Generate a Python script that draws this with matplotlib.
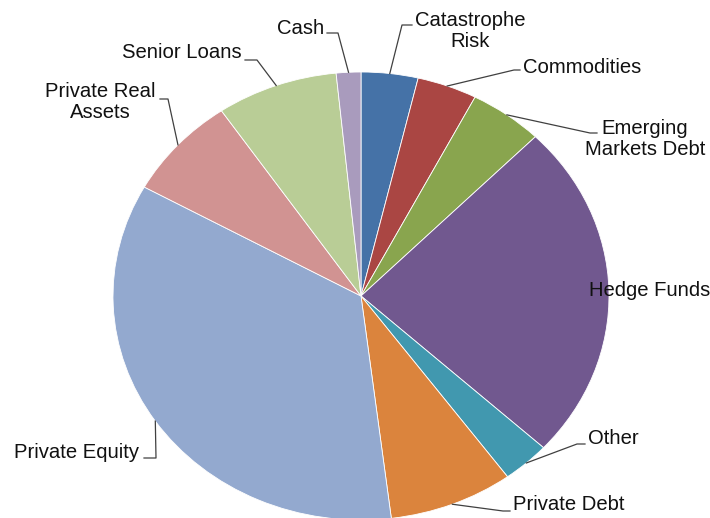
import numpy as np
import matplotlib.pyplot as plt

labels = ["Catastrophe\nRisk", "Commodities", "Emerging\nMarkets Debt", "Hedge Funds",
          "Other", "Private Debt", "Private Equity", "Private Real\nAssets",
          "Senior Loans", "Cash"]
values = [3.7, 3.9, 4.8, 24.4, 3.1, 8.1, 35.0, 7.4, 7.9, 1.6]
colors = ["#4572A7", "#AA4643", "#89A54E", "#71588F", "#4198AF",
          "#DB843D", "#93A9CF", "#D19392", "#B9CD96", "#A99BBD"]

W, H = 710, 518
CX, CY, RX, RY = 361, 296, 248, 224

fig = plt.figure(figsize=(W / 100, H / 100), dpi=100)
ax = fig.add_axes([(CX - RX) / W, (H - CY - RY) / H, 2 * RX / W, 2 * RY / H])
ax.pie(values, colors=colors, startangle=90, counterclock=False,
       wedgeprops=dict(edgecolor="white", linewidth=0.6))
ax.set_aspect("auto")
ax.set_xlim(-1, 1)
ax.set_ylim(-1, 1)
ax.axis("off")


def d(px, py):
    # pixel position (top-left origin) -> axes data coords
    return (px - CX) / RX, (CY - py) / RY


# label text anchor (pixels), alignment, leader elbow points (pixels)
layout = [
    ((470, 31), "center", [(402, 25), (412, 25)]),
    ((523, 68), "left", [(514, 70), (520, 70)]),
    ((645, 139), "center", [(590, 133), (597, 133)]),
    ((589, 290), "left", None),
    ((588, 438), "left", [(577, 444), (585, 444)]),
    ((513, 504), "left", [(503, 511), (510, 511)]),
    ((14, 452), "left", [(156, 458), (144, 458)]),
    ((100, 102), "center", [(168, 99), (160, 99)]),
    ((122, 53), "left", [(257, 60), (245, 60)]),
    ((277, 28), "left", [(338, 33), (327, 33)]),
]

total = sum(values)
cum = np.cumsum([0] + values[:-1])
for lab, v, c0, (pos, ha, elbow) in zip(labels, values, cum, layout):
    theta = np.deg2rad(90 - 360 * (c0 + v / 2) / total)
    if elbow is not None:
        pts = [(np.cos(theta), np.sin(theta))] + [d(*p) for p in elbow]
        xs, ys = zip(*pts)
        ax.plot(xs, ys, color="#404040", linewidth=0.9, clip_on=False)
    tx, ty = d(*pos)
    ax.text(tx, ty, lab, ha=ha, va="center", multialignment="center",
            fontsize=14.6, family=["Liberation Sans", "DejaVu Sans"],
            color="#111111", linespacing=1.12, clip_on=False)

fig.savefig("out.png", dpi=100)
